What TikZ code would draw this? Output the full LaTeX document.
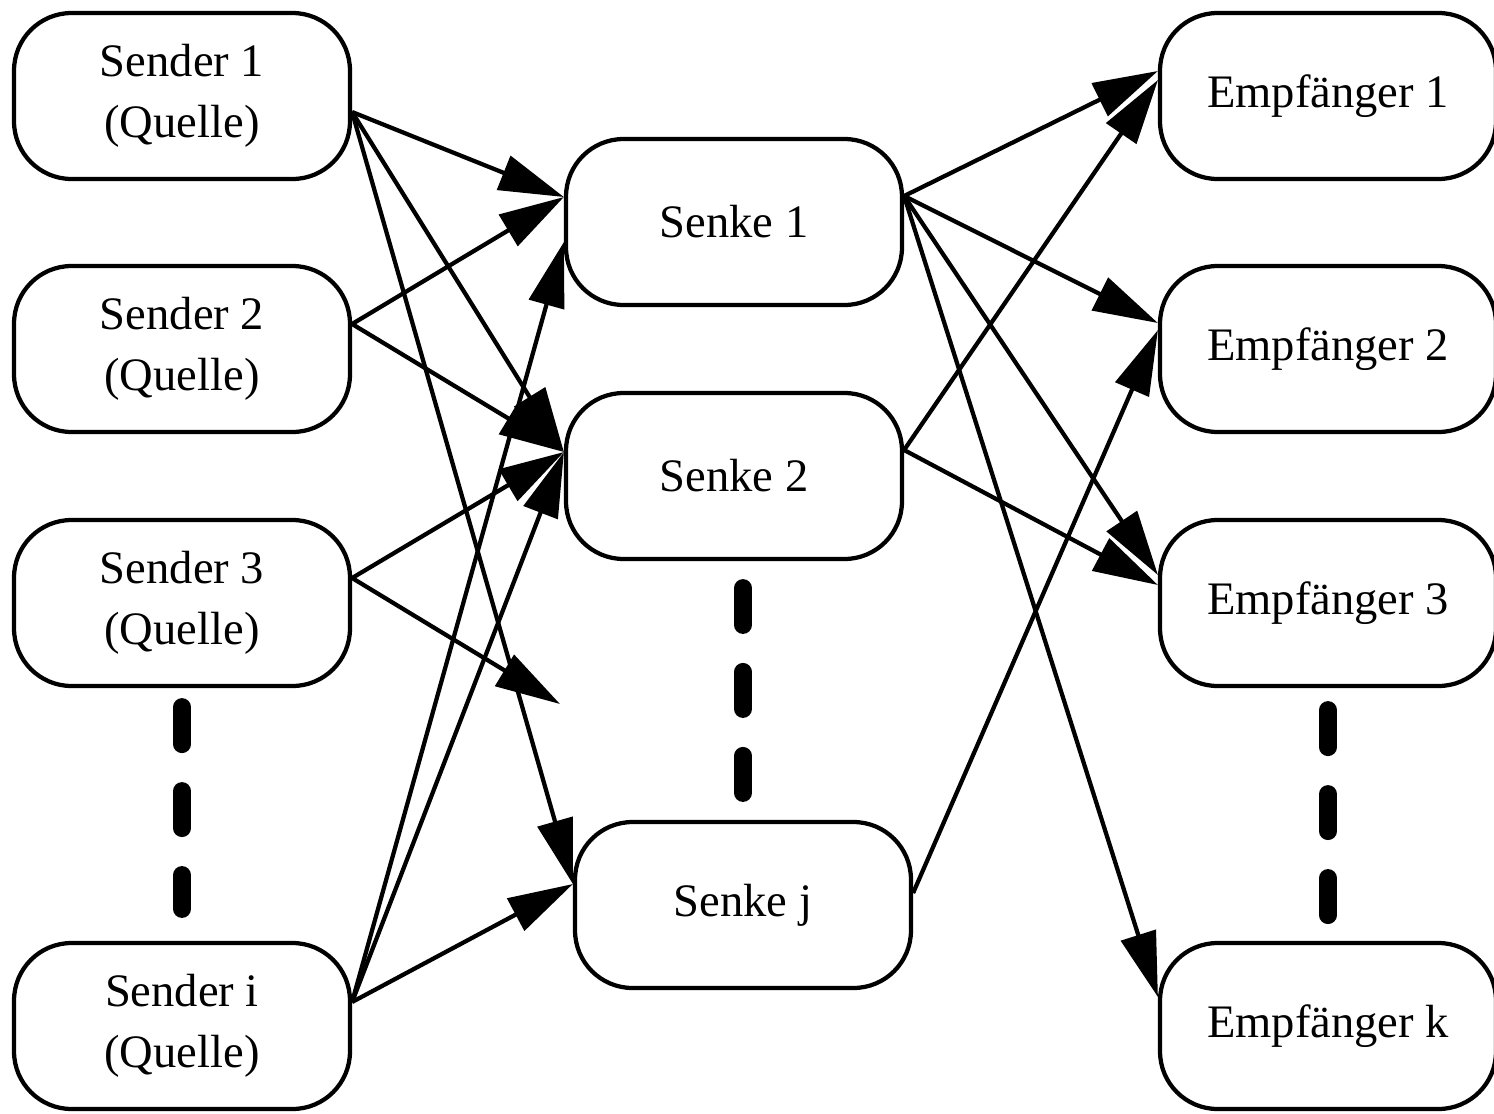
\documentclass[tikz,border=0pt]{standalone}
\usepackage{fontspec}
\setmainfont{Liberation Serif}
\usetikzlibrary{arrows.meta}

\begin{document}
\begin{tikzpicture}[x=0.02cm,y=-0.02cm,
    box/.style={draw,line width=0.085cm,rounded corners=1.15cm,minimum width=6.72cm,minimum height=3.32cm,
      align=center,inner sep=0pt,font=\fontsize{26.5}{35}\selectfont},
    pfeil/.style={line width=0.085cm,-{Triangle[length=1.3cm,width=0.72cm]}},
    punkte/.style={line width=0.36cm,line cap=round,dash pattern=on 0.74cm off 0.94cm}]
	\useasboundingbox (0,0) rectangle (1494,1113);

	% Sender (Quellen)
	\node[box] (s1) at (182,96) {Sender 1\\(Quelle)};
	\node[box] (s2) at (182,349) {Sender 2\\(Quelle)};
	\node[box] (s3) at (182,603) {Sender 3\\(Quelle)};
	\node[box] (si) at (182,1026) {Sender i\\(Quelle)};

	% Senken
	\node[box] (k1) at (734,222) {Senke 1};
	\node[box] (k2) at (734,476) {Senke 2};
	\node[box] (kj) at (743,905) {Senke j};

	% Empfaenger
	\node[box] (e1) at (1328,96) {Empfänger 1};
	\node[box] (e2) at (1328,349) {Empfänger 2};
	\node[box] (e3) at (1328,603) {Empfänger 3};
	\node[box] (ek) at (1328,1026) {Empfänger k};

	% Punkte zwischen den Kaesten
	\draw[punkte,shorten <=0.38cm,shorten >=0.64cm] (s3.south) -- (si.north);
	\draw[punkte,shorten <=0.54cm,shorten >=0.54cm] (kj.north) -- (kj.north |- k2.south);
	\draw[punkte,shorten <=0.44cm,shorten >=0.5cm] (e3.south) -- (ek.north);

	% Sender -> Senken
	\draw[pfeil] ([yshift=-0.32cm]s1.east) -- ([yshift=0.5cm]k1.west);
	\draw[pfeil] ([yshift=-0.32cm]s1.east) -- ([yshift=0.48cm]k2.west);
	\draw[pfeil] ([yshift=-0.32cm]s1.east) -- ([yshift=0.42cm]kj.west);
	\draw[pfeil] ([yshift=0.5cm]s2.east) -- ([yshift=0.5cm]k1.west);
	\draw[pfeil] ([yshift=0.5cm]s2.east) -- ([yshift=0.48cm]k2.west);
	\draw[pfeil] ([yshift=0.5cm]s3.east) -- ([yshift=0.48cm]k2.west);
	\coordinate (frei) at (560,704);
	\draw[pfeil] ([yshift=0.5cm]s3.east) -- (frei);
	\draw[pfeil] ([yshift=0.48cm]si.east) -- ([yshift=-0.4cm]k1.west);
	\draw[pfeil] ([yshift=0.48cm]si.east) -- ([yshift=0.48cm]k2.west);
	\draw[pfeil] ([yshift=0.48cm]si.east) -- ([yshift=0.42cm]kj.west);

	% Senken -> Empfaenger
	\draw[pfeil] ([yshift=0.52cm]k1.east) -- ([yshift=0.5cm]e1.west);
	\draw[pfeil] ([yshift=0.52cm]k1.east) -- ([yshift=0.52cm]e2.west);
	\draw[pfeil] ([yshift=0.52cm]k1.east) -- ([yshift=0.56cm]e3.west);
	\draw[pfeil] ([yshift=0.52cm]k1.east) -- ([yshift=0.58cm]ek.west);
	\draw[pfeil] ([yshift=0.52cm]k2.east) -- ([yshift=0.32cm]e1.west);
	\draw[pfeil] ([yshift=0.52cm]k2.east) -- ([yshift=0.36cm]e3.west);
	\draw[pfeil] ([yshift=0.24cm]kj.east) -- ([yshift=0.38cm]e2.west);
\end{tikzpicture}
\end{document}
